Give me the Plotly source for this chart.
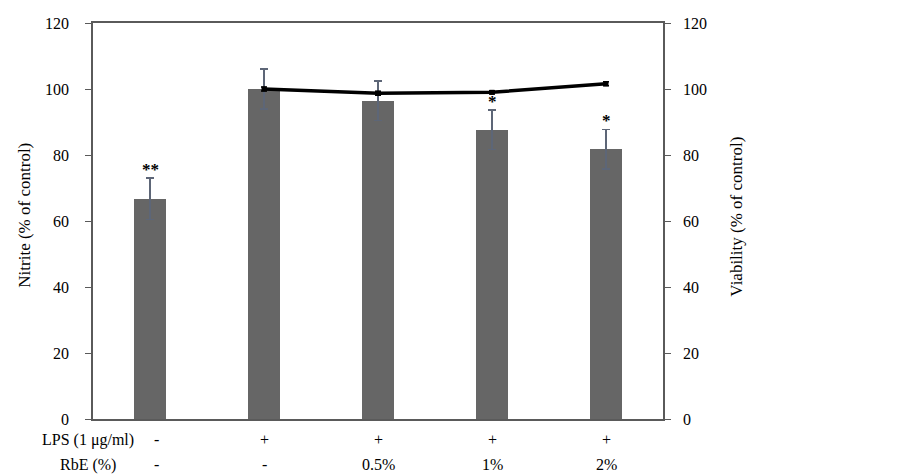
import plotly.graph_objects as go

# Data
positions = [0, 1, 2, 3, 4]
lps_labels = ["-", "+", "+", "+", "+"]
rbe_labels = ["-", "-", "0.5%", "1%", "2%"]
nitrite = [66.7, 100.0, 96.5, 87.6, 81.8]
nitrite_err = [6.3, 6.0, 6.0, 6.0, 6.0]
signif = ["**", "", "", "*", "*"]
via_pos = [1, 2, 3, 4]
viability = [100.0, 98.7, 99.0, 101.6]
viability_err = [0.6, 0.6, 0.5, 0.6]
y_ticks = [0, 20, 40, 60, 80, 100, 120]

FONT = "Liberation Serif"
AXC = "#5a5a5a"
TXT = dict(family=FONT, size=16, color="#000")
TTL = dict(family=FONT, size=17, color="#000")

fig = go.Figure()
fig.add_trace(go.Bar(
    x=positions, y=nitrite, width=0.28,
    marker=dict(color="#666666", line=dict(width=0)),
    error_y=dict(type="data", array=nitrite_err, color="#5d6677", thickness=1.5, width=4),
    showlegend=False,
))
fig.add_trace(go.Scatter(
    x=via_pos, y=viability, yaxis="y2", mode="lines+markers",
    line=dict(color="#000000", width=3.5),
    marker=dict(symbol="square", size=5, color="#000000"),
    error_y=dict(type="data", array=viability_err, color="#000000", thickness=1.5, width=3),
    showlegend=False,
))

annotations = []
for p, v, e, s in zip(positions, nitrite, nitrite_err, signif):
    if s:
        annotations.append(dict(x=p, y=v + e, xref="x", yref="y", text="<b>" + s + "</b>",
                                showarrow=False, yanchor="bottom", yshift=-3,
                                font=dict(family=FONT, size=17, color="#000")))
annotations.append(dict(x=-0.0088, y=-0.053, xref="paper", yref="paper", text="LPS (1 μg/ml)",
                        showarrow=False, xanchor="center", yanchor="middle", font=TXT))
annotations.append(dict(x=-0.0088, y=-0.116, xref="paper", yref="paper", text="RbE (%)",
                        showarrow=False, xanchor="center", yanchor="middle", font=TXT))
for i, (p, a, b) in enumerate(zip(positions, lps_labels, rbe_labels)):
    xs = 6 if i == 0 else 0
    annotations.append(dict(x=p, y=-0.053, xref="x", yref="paper", text=a, showarrow=False,
                            xshift=xs, yanchor="middle", font=TXT))
    annotations.append(dict(x=p, y=-0.116, xref="x", yref="paper", text=b, showarrow=False,
                            xshift=xs, yanchor="middle", font=TXT))
annotations.append(dict(x=-0.1193, y=0.516, xref="paper", yref="paper", text="Nitrite (% of control)",
                        showarrow=False, textangle=-90, xanchor="center", yanchor="middle", font=TTL))
annotations.append(dict(x=1.1298, y=0.511, xref="paper", yref="paper", text="Viability (% of control)",
                        showarrow=False, textangle=-90, xanchor="center", yanchor="middle", font=TTL))

fig.update_layout(
    width=902, height=476,
    margin=dict(l=93, r=239, t=23, b=57),
    paper_bgcolor="white", plot_bgcolor="white",
    font=TXT,
    xaxis=dict(range=[-0.5, 4.5], showticklabels=False, showgrid=False, zeroline=False,
               showline=True, mirror=True, linecolor=AXC, linewidth=1.5, ticks="",
               automargin=False),
    yaxis=dict(range=[0, 120], tickvals=y_ticks, showgrid=False, zeroline=False,
               showline=True, linecolor=AXC, linewidth=1.5, ticks="outside", ticklen=6,
               tickcolor=AXC, tickfont=TXT, ticklabelstandoff=13, automargin=False),
    yaxis2=dict(range=[0, 120], tickvals=y_ticks, overlaying="y", side="right", showgrid=False,
                zeroline=False, showline=True, linecolor=AXC, linewidth=1.5, ticks="outside",
                ticklen=6, tickcolor=AXC, tickfont=TXT, ticklabelstandoff=9, automargin=False),
    annotations=annotations,
    bargap=0,
)

fig.write_html("out.html", config={"displayModeBar": False},
               post_script="document.body.style.margin='0';document.body.style.padding='0';")
